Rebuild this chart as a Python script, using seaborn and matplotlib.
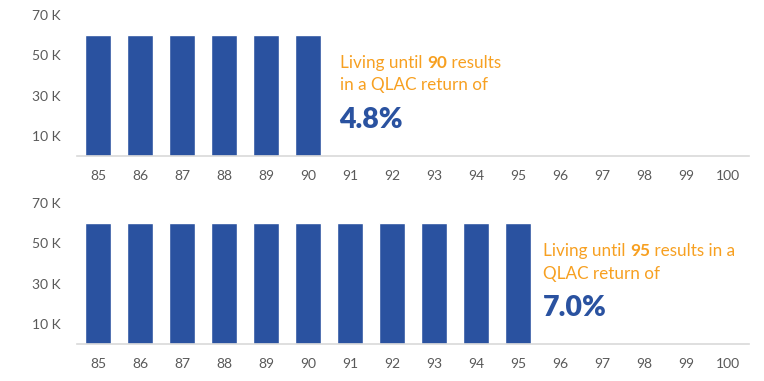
import numpy as np
import pandas as pd
import seaborn as sns
import matplotlib.pyplot as plt

# QLAC payout by age: two scenarios (living until 90, living until 95)
ages = [str(a) for a in range(85, 101)]
payout_90 = [60000] * 6 + [0] * 10
payout_95 = [60000] * 11 + [0] * 5
live_until = ["90", "95"]
returns = ["4.8%", "7.0%"]
line1_tail = [" results", " results in a"]
line2 = ["in a QLAC return of", "QLAC return of"]

y_ticks = [10000, 30000, 50000, 70000]
y_labels = ["10 K", "30 K", "50 K", "70 K"]

bar_blue = "#2A52A0"
orange = "#F7A021"
pct_blue = "#2A52A0"
grey = "#595959"

sns.set_style("white")
plt.rcParams['font.family'] = ['Lato', 'DejaVu Sans']

fig = plt.figure(figsize=(7.64, 3.81), dpi=100)
ax_top = fig.add_axes([0.1008, 0.5906, 0.8796, 0.3700])
ax_bot = fig.add_axes([0.1008, 0.0971, 0.8796, 0.3701])

# where the note starts, measured in bar slots from the first bar
note_x = [5.76, 10.6]

panels = [(ax_top, payout_90), (ax_bot, payout_95)]
for i, (ax, vals) in enumerate(panels):
    df = pd.DataFrame({"age": ages, "payout": vals})
    sns.barplot(data=df, x="age", y="payout", order=ages, color=bar_blue,
                width=0.62, saturation=1, ax=ax)
    ax.set_xlim(-0.5, len(ages) - 0.5)
    ax.set_ylim(0, 70000)
    ax.set_yticks(y_ticks)
    ax.set_yticklabels(y_labels)
    ax.set_xlabel("")
    ax.set_ylabel("")
    ax.tick_params(axis="both", length=0, labelsize=10, labelcolor=grey)
    ax.tick_params(axis="y", pad=12)
    ax.tick_params(axis="x", pad=10)
    for s in ["left", "right", "top"]:
        ax.spines[s].set_visible(False)
    ax.spines["bottom"].set_color("#D9D9D9")
    ax.spines["bottom"].set_linewidth(1.2)

    # annotation next to the last bar
    x0 = note_x[i]
    t1 = ax.text(x0, 46000, "Living until ", color=orange, fontsize=12.3,
                 va="center", ha="left")
    t2 = ax.annotate(live_until[i], xy=(1, 0), xycoords=t1, color=orange,
                     fontsize=12.3, fontweight="bold", va="bottom", ha="left")
    ax.annotate(line1_tail[i], xy=(1, 0), xycoords=t2, color=orange,
                fontsize=12.3, va="bottom", ha="left")
    ax.text(x0, 35000, line2[i], color=orange, fontsize=12.3,
            va="center", ha="left")
    ax.text(x0 - 0.02, 18000, returns[i], color=pct_blue, fontsize=20.5,
            fontweight="heavy", va="center", ha="left")

plt.savefig("out.png", dpi=100)
